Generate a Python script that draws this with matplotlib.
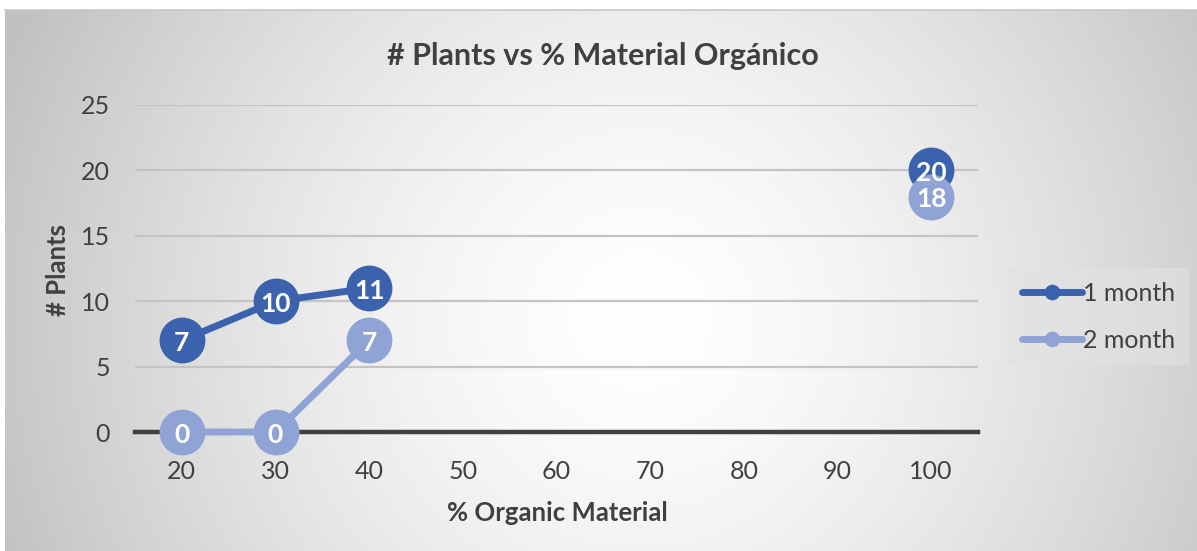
import numpy as np
import matplotlib
matplotlib.use("Agg")
import matplotlib.pyplot as plt

plt.rcParams['font.family'] = ['Lato', 'DejaVu Sans']

categories = ["20", "30", "40", "50", "60", "70", "80", "90", "100"]
month1 = [7, 10, 11, None, None, None, None, None, 20]
month2 = [0, 0, 7, None, None, None, None, None, 18]
series_names = ["1 month", "2 month"]
title = "# Plants vs % Material Orgánico"
xlabel = "% Organic Material"
ylabel = "# Plants"

W, H = 1197, 551
fig = plt.figure(figsize=(W / 100, H / 100), dpi=100)
fig.patch.set_facecolor("white")

# background radial gradient chart area (pixel coordinates)
bx0, by0 = 5, 10
bg = fig.add_axes([bx0 / W, 0, (W - bx0) / W, (H - by0) / H])
px = np.arange(bx0, W)
py = np.arange(by0, H)
PX, PY = np.meshgrid(px, py)
ccx, ccy = 640, 320
r = np.sqrt((PX - ccx) ** 2 + (PY - ccy) ** 2) / 680.0
r = np.clip(r, 0, 1)
val = 1 - 0.24 * r ** 1.5
img = np.dstack([val, val, val])
bg.imshow(img, aspect="auto", extent=[0, 1, 0, 1], origin="upper", interpolation="bilinear")
bg.set_xlim(0, 1)
bg.set_ylim(0, 1)
bg.axis("off")
fig.add_artist(plt.Line2D([bx0 / W, 1], [(H - by0) / H, (H - by0) / H],
                          color="#c8c8c8", lw=1.2, transform=fig.transFigure))

# plot area
L, R, T, B = 135, 978, 105, 432
ax = fig.add_axes([L / W, (H - B) / H, (R - L) / W, (B - T) / H])
ax.set_facecolor("none")
x = np.arange(len(categories))

c1 = "#3B63AD"
c2 = "#8FA4D5"

def to_arr(v):
    return np.array([np.nan if a is None else a for a in v], dtype=float)

y1 = to_arr(month1)
y2 = to_arr(month2)

ax.plot(x, y1, color=c1, lw=5, marker="o", ms=32, zorder=3, label=series_names[0],
        solid_capstyle="round", clip_on=False)
ax.plot(x, y2, color=c2, lw=5, marker="o", ms=32, zorder=4, label=series_names[1],
        solid_capstyle="round", clip_on=False)

for yy in (y1, y2):
    for xi, v in zip(x, yy):
        if not np.isnan(v):
            ax.text(xi, v - 0.2, f"{int(v)}", color="white", fontsize=19, fontweight="bold",
                    ha="center", va="center", zorder=6, clip_on=False)

ax.set_xlim(-0.5, len(categories) - 0.5)
ax.set_ylim(0, 25)
ax.set_yticks([0, 5, 10, 15, 20, 25])
ax.set_xticks(x)
ax.set_xticklabels(categories)
ax.grid(axis="y", color="#c4c4c4", lw=1.6, zorder=0)
ax.set_axisbelow(True)
for s in ["top", "right", "left"]:
    ax.spines[s].set_visible(False)
ax.spines["bottom"].set_color("#404040")
ax.spines["bottom"].set_linewidth(3.2)
ax.spines["bottom"].set_zorder(2.5)
ax.tick_params(axis="both", length=0, labelsize=18, colors="#404040")
ax.tick_params(axis="y", pad=18)
ax.tick_params(axis="x", pad=20)
for lab in ax.get_xticklabels() + ax.get_yticklabels():
    lab.set_color("#404040")

fig.text(557 / W, 1 - 513 / H, xlabel, fontsize=18.5, fontweight="bold", color="#404040",
         ha="center", va="center")
fig.text(58 / W, 1 - 270 / H, ylabel, fontsize=18.5, fontweight="bold", color="#404040",
         ha="center", va="center", rotation=90)
fig.text(603 / W, 1 - 56 / H, title, fontsize=22, fontweight="bold", color="#404040",
         ha="center", va="center")

leg = fig.legend(loc="upper left", bbox_to_anchor=(1008 / W, 1 - 268 / H), frameon=True,
                 fontsize=18, handlelength=2.4, handletextpad=0.05, labelspacing=0.95,
                 markerscale=0.32, borderpad=0.55, borderaxespad=0)
leg.get_frame().set_facecolor("#e2e2e2")
leg.get_frame().set_alpha(0.6)
leg.get_frame().set_edgecolor("none")
leg.get_frame().set_boxstyle("square", pad=0)
for t in leg.get_texts():
    t.set_color("#404040")

fig.savefig("out.png", dpi=100)
